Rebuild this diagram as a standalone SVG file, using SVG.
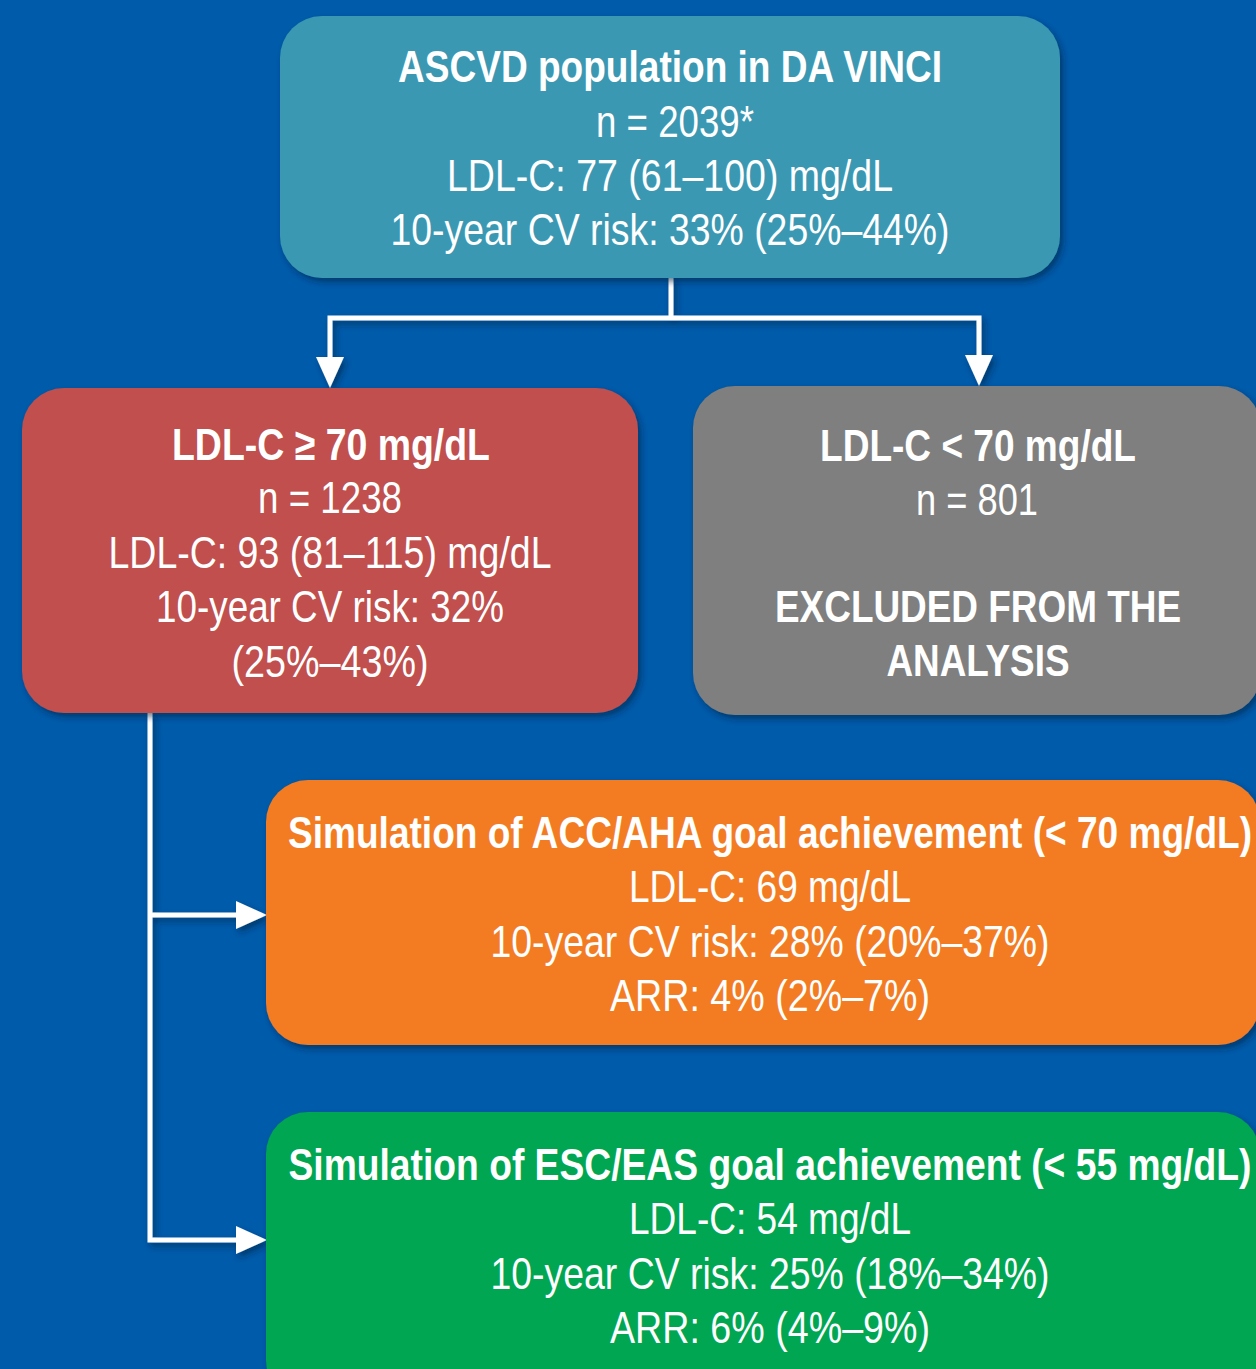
<svg xmlns="http://www.w3.org/2000/svg" width="1256" height="1369" viewBox="0 0 1256 1369">
<style>
.t{font-family:"Liberation Sans Narrow","Liberation Sans",Arial,sans-serif;fill:#fff;font-size:45px;text-anchor:middle}
.b{font-weight:bold}
.con{fill:none;stroke:#fff;stroke-width:5}
</style>
<defs>
<filter id="sh" x="-10%" y="-10%" width="120%" height="125%">
<feDropShadow dx="3" dy="4" stdDeviation="3" flood-color="#001a40" flood-opacity="0.55"/>
</filter>
<marker id="ah" markerUnits="userSpaceOnUse" markerWidth="31" markerHeight="28" refX="0" refY="14" orient="auto">
<path d="M0,0 L31,14 L0,28 z" fill="#fff"/>
</marker>
</defs>
<rect width="1256" height="1369" fill="#005BAA"/>

<g id="connectors" filter="url(#sh)">
<path class="con" d="M671 276 V318"/>
<path class="con" d="M671 318 H330 V357" marker-end="url(#ah)"/>
<path class="con" d="M671 318 H979 V355" marker-end="url(#ah)"/>
<path class="con" d="M150 712 V1240 H236" marker-end="url(#ah)"/>
<path class="con" d="M150 915 H236" marker-end="url(#ah)"/>
</g>

<g id="node-ascvd">
<rect x="280" y="16" width="780" height="262" rx="42" fill="#3A98B2" filter="url(#sh)"/>
<text class="t b" x="670" y="82" textLength="544" lengthAdjust="spacingAndGlyphs">ASCVD population in DA VINCI</text>
<text class="t" x="675" y="137" textLength="158" lengthAdjust="spacingAndGlyphs">n = 2039*</text>
<text class="t" x="670" y="191" textLength="446" lengthAdjust="spacingAndGlyphs">LDL-C: 77 (61–100) mg/dL</text>
<text class="t" x="670" y="245" textLength="559" lengthAdjust="spacingAndGlyphs">10-year CV risk: 33% (25%–44%)</text>
</g>

<g id="node-high">
<rect x="22" y="388" width="616" height="325" rx="42" fill="#C0504D" filter="url(#sh)"/>
<text class="t b" x="331" y="460" textLength="318" lengthAdjust="spacingAndGlyphs">LDL-C ≥ 70 mg/dL</text>
<text class="t" x="330" y="513" textLength="144" lengthAdjust="spacingAndGlyphs">n = 1238</text>
<text class="t" x="330" y="568" textLength="443" lengthAdjust="spacingAndGlyphs">LDL-C: 93 (81–115) mg/dL</text>
<text class="t" x="330" y="622" textLength="348" lengthAdjust="spacingAndGlyphs">10-year CV risk: 32%</text>
<text class="t" x="330" y="677" textLength="197" lengthAdjust="spacingAndGlyphs">(25%–43%)</text>
</g>

<g id="node-low">
<rect x="693" y="386" width="568" height="329" rx="42" fill="#7F7F7F" filter="url(#sh)"/>
<text class="t b" x="978" y="461" textLength="316" lengthAdjust="spacingAndGlyphs">LDL-C &lt; 70 mg/dL</text>
<text class="t" x="977" y="515" textLength="122" lengthAdjust="spacingAndGlyphs">n = 801</text>
<text class="t b" x="978" y="622" textLength="406" lengthAdjust="spacingAndGlyphs">EXCLUDED FROM THE</text>
<text class="t b" x="978" y="676" textLength="183" lengthAdjust="spacingAndGlyphs">ANALYSIS</text>
</g>

<g id="node-acc">
<rect x="266" y="780" width="994" height="265" rx="42" fill="#F37B22" filter="url(#sh)"/>
<text class="t b" x="770" y="848" textLength="964" lengthAdjust="spacingAndGlyphs">Simulation of ACC/AHA goal achievement (&lt; 70 mg/dL)</text>
<text class="t" x="770" y="902" textLength="282" lengthAdjust="spacingAndGlyphs">LDL-C: 69 mg/dL</text>
<text class="t" x="770" y="957" textLength="559" lengthAdjust="spacingAndGlyphs">10-year CV risk: 28% (20%–37%)</text>
<text class="t" x="770" y="1011" textLength="320" lengthAdjust="spacingAndGlyphs">ARR: 4% (2%–7%)</text>
</g>

<g id="node-esc">
<rect x="266" y="1112" width="994" height="290" rx="42" fill="#00A651" filter="url(#sh)"/>
<text class="t b" x="770" y="1180" textLength="963" lengthAdjust="spacingAndGlyphs">Simulation of ESC/EAS goal achievement (&lt; 55 mg/dL)</text>
<text class="t" x="770" y="1234" textLength="282" lengthAdjust="spacingAndGlyphs">LDL-C: 54 mg/dL</text>
<text class="t" x="770" y="1289" textLength="559" lengthAdjust="spacingAndGlyphs">10-year CV risk: 25% (18%–34%)</text>
<text class="t" x="770" y="1343" textLength="320" lengthAdjust="spacingAndGlyphs">ARR: 6% (4%–9%)</text>
</g>
</svg>
